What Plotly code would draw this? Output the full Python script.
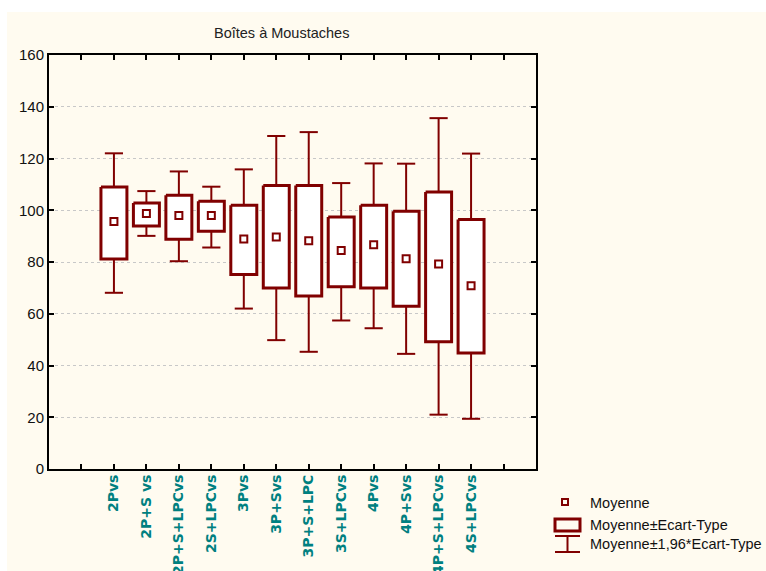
import plotly.graph_objects as go

# --- data ---
categories = ["2Pvs", "2P+S vs", "2P+S+LPCvs", "2S+LPCvs", "3Pvs", "3P+Svs",
              "3P+S+LPC", "3S+LPCvs", "4Pvs", "4P+Svs", "4P+S+LPCvs", "4S+LPCvs"]
positions = list(range(2, 14))
means = [95.7, 98.7, 98.0, 98.0, 88.9, 89.7, 88.2, 84.4, 86.7, 81.3, 79.2, 70.8]
sd_high = [109.0, 102.8, 105.8, 103.5, 101.9, 109.6, 109.6, 97.4, 101.9, 99.6, 107.1, 96.4]
sd_low = [81.2, 93.9, 88.8, 91.9, 75.2, 70.0, 66.9, 70.4, 70.0, 62.9, 49.2, 44.8]
ci_high = [122.0, 107.4, 115.0, 109.1, 115.8, 128.7, 130.2, 110.5, 118.1, 118.0, 135.6, 121.9]
ci_low = [68.1, 90.1, 80.3, 85.6, 62.0, 49.8, 45.3, 57.4, 54.4, 44.5, 21.0, 19.4]

RED = "#800000"
TEAL = "#008080"
CREAM = "#FFFBF0"
BOX_HW = 0.4
CAP_HW = 0.28

W, H = 766, 571
# plot area in pixels
L, R, T, B = 49, 536, 55, 469


def px(x):
    return (x - L) / (R - L)


def py(y):
    return (B - y) / (B - T)


fig = go.Figure()

# whiskers (mean +/- 1.96 SD)
wx, wy = [], []
for p, hi, lo, bh, bl in zip(positions, ci_high, ci_low, sd_high, sd_low):
    wx += [p, p, None, p, p, None, p - CAP_HW, p + CAP_HW, None, p - CAP_HW, p + CAP_HW, None]
    wy += [bh, hi, None, bl, lo, None, hi, hi, None, lo, lo, None]
fig.add_trace(go.Scatter(x=wx, y=wy, mode="lines", line=dict(color=RED, width=2),
                         hoverinfo="skip", showlegend=False))

# boxes (mean +/- SD)
bx, by = [], []
for p, bh, bl in zip(positions, sd_high, sd_low):
    bx += [p - BOX_HW, p + BOX_HW, p + BOX_HW, p - BOX_HW, p - BOX_HW, None]
    by += [bh, bh, bl, bl, bh, None]
fig.add_trace(go.Scatter(x=bx, y=by, mode="lines", line=dict(color=RED, width=3),
                         fill="toself", fillcolor="white",
                         hoverinfo="skip", showlegend=False))

# means
fig.add_trace(go.Scatter(x=positions, y=means, mode="markers",
                         marker=dict(symbol="square-open", size=7, color=RED,
                                     line=dict(width=2, color=RED)),
                         showlegend=False))

tickvals = list(range(0, 16))
ticktext = [""] * 16
for p, c in zip(positions, categories):
    ticktext[p] = c

shapes = [
    # cream page background
    dict(type="rect", xref="paper", yref="paper", layer="below",
         x0=px(7), x1=px(W), y0=py(H), y1=py(12),
         fillcolor=CREAM, line=dict(width=0)),
    # legend: box symbol
    dict(type="rect", xref="paper", yref="paper",
         x0=px(555), x1=px(580), y0=py(531), y1=py(519),
         line=dict(color=RED, width=3)),
    # legend: whisker symbol
    dict(type="line", xref="paper", yref="paper",
         x0=px(555), x1=px(580), y0=py(536), y1=py(536), line=dict(color=RED, width=2)),
    dict(type="line", xref="paper", yref="paper",
         x0=px(567.5), x1=px(567.5), y0=py(536), y1=py(552), line=dict(color=RED, width=2)),
    dict(type="line", xref="paper", yref="paper",
         x0=px(555), x1=px(580), y0=py(552), y1=py(552), line=dict(color=RED, width=2)),
    # legend: mean symbol
    dict(type="rect", xref="paper", yref="paper",
         x0=px(562), x1=px(568), y0=py(505), y1=py(499),
         line=dict(color=RED, width=2)),
]

legend_font = dict(family="Liberation Sans, Arial", size=14.5, color="#111")
annotations = [
    dict(text="Boîtes à Moustaches", xref="paper", yref="paper", x=px(281.5), y=py(33),
         yanchor="middle", showarrow=False,
         font=dict(family="Liberation Sans, Arial", size=14.5, color="#222")),
    dict(text="Moyenne", xref="paper", yref="paper", x=px(588), y=py(503), xanchor="left",
         yanchor="middle", showarrow=False, font=legend_font),
    dict(text="Moyenne±Ecart-Type", xref="paper", yref="paper", x=px(588), y=py(525),
         xanchor="left", yanchor="middle", showarrow=False, font=legend_font),
    dict(text="Moyenne±1,96*Ecart-Type", xref="paper", yref="paper", x=px(588), y=py(544),
         xanchor="left", yanchor="middle", showarrow=False, font=legend_font),
]

fig.update_layout(
    width=W, height=H,
    margin=dict(l=L, r=W - R, t=T, b=H - B, autoexpand=False),
    paper_bgcolor="white", plot_bgcolor="white",
    shapes=shapes, annotations=annotations,
    xaxis=dict(range=[0, 15], tickvals=tickvals, ticktext=ticktext, tickangle=-90,
               ticks="inside", ticklen=5, tickwidth=2, tickcolor="black",
               showline=True, linecolor="black", linewidth=2, mirror="allticks",
               showgrid=False, zeroline=False, ticklabelstandoff=-2,
               tickfont=dict(family="DejaVu Sans", size=14, color=TEAL, weight="bold")),
    yaxis=dict(range=[0, 160], dtick=20, ticks="inside", ticklen=5, tickwidth=2,
               tickcolor="black", showline=True, linecolor="black", linewidth=2,
               mirror="allticks", showgrid=True, gridcolor="#c8c8c8", griddash="dot",
               gridwidth=1, zeroline=False,
               tickfont=dict(family="Liberation Sans, Arial", size=15, color="#111")),
)

# drop the default body margin so the figure fills the window exactly
fig.write_html("out.html", config={"displayModeBar": False},
               post_script="document.body.style.margin = '0';")
